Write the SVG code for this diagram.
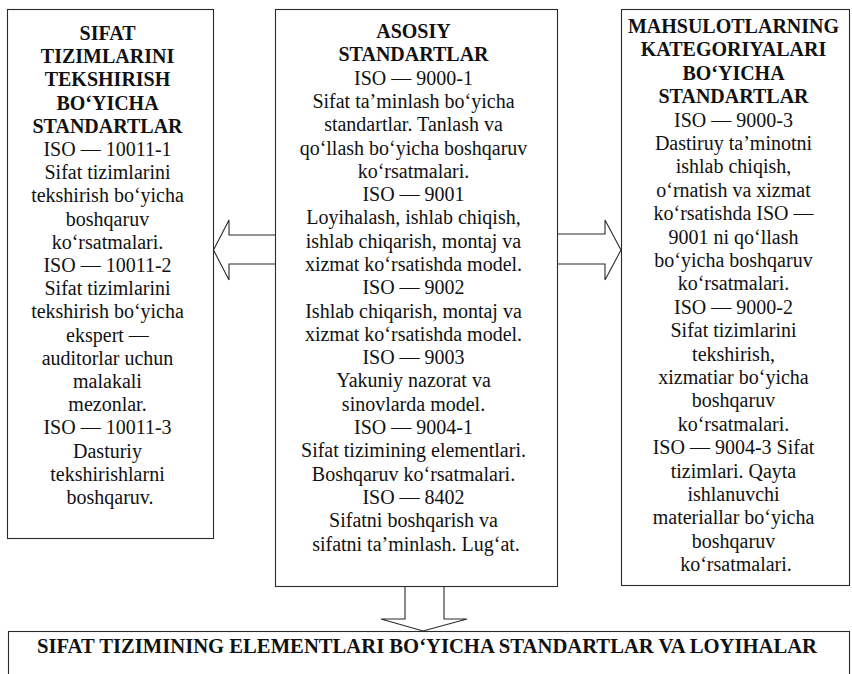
<svg xmlns="http://www.w3.org/2000/svg" width="852" height="674" viewBox="0 0 852 674">
<style>
.box{fill:#fff;stroke:#2a2a2a;stroke-width:1.1}
.t{font-family:"Liberation Serif","Times New Roman",serif;font-size:20px;fill:#111;text-anchor:middle}
.b{font-weight:bold}
.con{fill:none;stroke:#2a2a2a;stroke-width:1.1;stroke-linejoin:miter}
</style>
<rect width="852" height="674" fill="#fff"/>
<g id="node-left">
<rect class="box" x="7.5" y="9.5" width="206" height="529"/>
<text class="t" x="110" y="40">
<tspan class="b" x="110">SIFAT</tspan>
<tspan class="b" x="110" dy="23.2">TIZIMLARINI</tspan>
<tspan class="b" x="110" dy="23.2">TEKSHIRISH</tspan>
<tspan class="b" x="110" dy="23.2">BO‘YICHA</tspan>
<tspan class="b" x="110" dy="23.2">STANDARTLAR</tspan>
<tspan x="110" dy="23.2">ISO — 10011-1</tspan>
<tspan x="110" dy="23.2">Sifat tizimlarini</tspan>
<tspan x="110" dy="23.2">tekshirish bo‘yicha</tspan>
<tspan x="110" dy="23.2">boshqaruv</tspan>
<tspan x="110" dy="23.2">ko‘rsatmalari.</tspan>
<tspan x="110" dy="23.2">ISO — 10011-2</tspan>
<tspan x="110" dy="23.2">Sifat tizimlarini</tspan>
<tspan x="110" dy="23.2">tekshirish bo‘yicha</tspan>
<tspan x="110" dy="23.2">ekspert —</tspan>
<tspan x="110" dy="23.2">auditorlar uchun</tspan>
<tspan x="110" dy="23.2">malakali</tspan>
<tspan x="110" dy="23.2">mezonlar.</tspan>
<tspan x="110" dy="23.2">ISO — 10011-3</tspan>
<tspan x="110" dy="23.2">Dasturiy</tspan>
<tspan x="110" dy="23.2">tekshirishlarni</tspan>
<tspan x="110" dy="23.2">boshqaruv.</tspan>
</text>
</g>
<g id="node-center">
<rect class="box" x="275.5" y="9.5" width="282" height="577"/>
<text class="t" x="416" y="38">
<tspan class="b" x="416">ASOSIY</tspan>
<tspan class="b" x="416" dy="23.3">STANDARTLAR</tspan>
<tspan x="416" dy="23.3">ISO — 9000-1</tspan>
<tspan x="416" dy="23.3">Sifat ta’minlash bo‘yicha</tspan>
<tspan x="416" dy="23.3">standartlar. Tanlash va</tspan>
<tspan x="416" dy="23.3">qo‘llash bo‘yicha boshqaruv</tspan>
<tspan x="416" dy="23.3">ko‘rsatmalari.</tspan>
<tspan x="416" dy="23.3">ISO — 9001</tspan>
<tspan x="416" dy="23.3">Loyihalash, ishlab chiqish,</tspan>
<tspan x="416" dy="23.3">ishlab chiqarish, montaj va</tspan>
<tspan x="416" dy="23.3">xizmat ko‘rsatishda model.</tspan>
<tspan x="416" dy="23.3">ISO — 9002</tspan>
<tspan x="416" dy="23.3">Ishlab chiqarish, montaj va</tspan>
<tspan x="416" dy="23.3">xizmat ko‘rsatishda model.</tspan>
<tspan x="416" dy="23.3">ISO — 9003</tspan>
<tspan x="416" dy="23.3">Yakuniy nazorat va</tspan>
<tspan x="416" dy="23.3">sinovlarda model.</tspan>
<tspan x="416" dy="23.3">ISO — 9004-1</tspan>
<tspan x="416" dy="23.3">Sifat tizimining elementlari.</tspan>
<tspan x="416" dy="23.3">Boshqaruv ko‘rsatmalari.</tspan>
<tspan x="416" dy="23.3">ISO — 8402</tspan>
<tspan x="416" dy="23.3">Sifatni boshqarish va</tspan>
<tspan x="416" dy="23.3">sifatni ta’minlash. Lug‘at.</tspan>
</text>
</g>
<g id="node-right">
<rect class="box" x="621.5" y="9.5" width="228" height="576"/>
<text class="t" x="736" y="33">
<tspan class="b" x="736">MAHSULOTLARNING</tspan>
<tspan class="b" x="736" dy="23.4">KATEGORIYALARI</tspan>
<tspan class="b" x="736" dy="23.4">BO‘YICHA</tspan>
<tspan class="b" x="736" dy="23.4">STANDARTLAR</tspan>
<tspan x="736" dy="23.4">ISO — 9000-3</tspan>
<tspan x="736" dy="23.4">Dastiruy ta’minotni</tspan>
<tspan x="736" dy="23.4">ishlab chiqish,</tspan>
<tspan x="736" dy="23.4">o‘rnatish va xizmat</tspan>
<tspan x="736" dy="23.4">ko‘rsatishda ISO —</tspan>
<tspan x="736" dy="23.4">9001 ni qo‘llash</tspan>
<tspan x="736" dy="23.4">bo‘yicha boshqaruv</tspan>
<tspan x="736" dy="23.4">ko‘rsatmalari.</tspan>
<tspan x="736" dy="23.4">ISO — 9000-2</tspan>
<tspan x="736" dy="23.4">Sifat tizimlarini</tspan>
<tspan x="736" dy="23.4">tekshirish,</tspan>
<tspan x="736" dy="23.4">xizmatiar bo‘yicha</tspan>
<tspan x="736" dy="23.4">boshqaruv</tspan>
<tspan x="736" dy="23.4">ko‘rsatmalari.</tspan>
<tspan x="736" dy="23.4">ISO — 9004-3 Sifat</tspan>
<tspan x="736" dy="23.4">tizimlari. Qayta</tspan>
<tspan x="736" dy="23.4">ishlanuvchi</tspan>
<tspan x="736" dy="23.4">materiallar bo‘yicha</tspan>
<tspan x="736" dy="23.4">boshqaruv</tspan>
<tspan x="736" dy="23.4">ko‘rsatmalari.</tspan>
</text>
</g>
<g id="node-bottom">
<rect class="box" x="8.5" y="631.5" width="841" height="70"/>
<text class="t b" x="427" y="653" font-size="20" textLength="780" lengthAdjust="spacingAndGlyphs">SIFAT TIZIMINING ELEMENTLARI BO‘YICHA STANDARTLAR VA LOYIHALAR</text>
</g>
<g id="connectors">
<polyline class="con" points="275,235 229,235 229,220 213.5,250 229,280 229,264 275,264"/>
<polyline class="con" points="557,234 605,234 605,220 621,250 605,280 605,264 557,264"/>
<polyline class="con" points="405,586 405,619 381,619 423,631 467,619 444,619 444,586"/>
</g>
</svg>
